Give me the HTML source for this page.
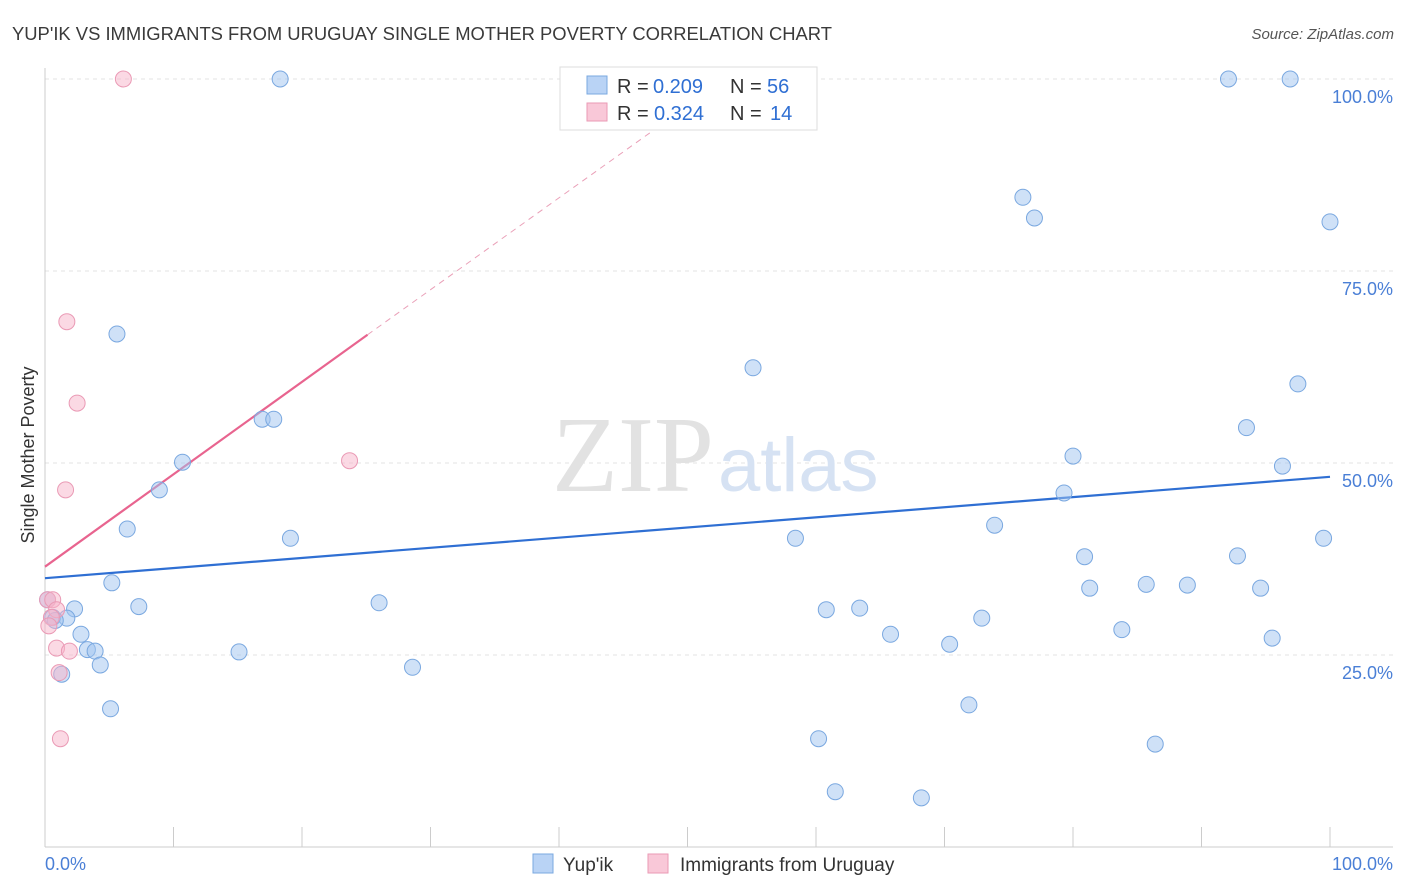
<!DOCTYPE html>
<html><head><meta charset="utf-8"><style>
body{margin:0;background:#fff;font-family:"Liberation Sans",sans-serif;}
svg{display:block}
</style></head><body>
<svg width="1406" height="892">
<text x="12" y="40" font-size="18.4" fill="#3a3a3a">YUP'IK VS IMMIGRANTS FROM URUGUAY SINGLE MOTHER POVERTY CORRELATION CHART</text>
<text x="1394" y="39" font-size="15" fill="#555" font-style="italic" text-anchor="end">Source: ZipAtlas.com</text>
<g id="grid"></g>
<text x="714" y="491" font-size="108" fill="#e2e2e2" font-family="Liberation Serif" text-anchor="end">ZIP</text>
<text x="718" y="491" font-size="76" fill="#d6e2f3">atlas</text>
<text x="34" y="455" font-size="18" fill="#333" transform="rotate(-90 34 455)" text-anchor="middle">Single Mother Poverty</text>
<g id="lines"></g>
<g id="pts"></g>
<rect x="560" y="67" width="257" height="63" fill="#fff" stroke="#ddd"/>
<rect x="587" y="76" width="20" height="18" fill="#b9d3f5" stroke="#7aa8e0"/>
<rect x="587" y="103" width="20" height="18" fill="#f9c8d8" stroke="#ea9ab5"/>
<g font-size="20" fill="#333">
<text x="617" y="93">R =</text>
<text x="653" y="93" fill="#2f6fd3">0.209</text>
<text x="730" y="93">N =</text>
<text x="767" y="93" fill="#2f6fd3">56</text>
<text x="617" y="120">R =</text>
<text x="654" y="120" fill="#2f6fd3">0.324</text>
<text x="730" y="120">N =</text>
<text x="770" y="120" fill="#2f6fd3">14</text>
</g>
<text x="45" y="870" font-size="18" fill="#4a7fd6">0.0%</text>
<text x="1393" y="870" font-size="18" fill="#4a7fd6" text-anchor="end">100.0%</text>
<rect x="533" y="854" width="20" height="19" fill="#b9d3f5" stroke="#7aa8e0"/>
<text x="563" y="871" font-size="19" fill="#333">Yup'ik</text>
<rect x="648" y="854" width="20" height="19" fill="#f9c8d8" stroke="#ea9ab5"/>
<text x="680" y="871" font-size="19" fill="#333">Immigrants from Uruguay</text>
</svg>
<script>
const yTicks=[25,50,75,100];
const yTickLabels=["25.0%","50.0%","75.0%","100.0%"];
const xTicks=[0,10,20,30,40,50,60,70,80,90,100];
const blueX=[18.3,92.1,96.9,76.1,77.0,100,5.6,55.1,97.5,16.9,17.8,93.5,10.7,80.0,96.3,8.9,79.3,6.4,73.9,19.1,58.4,99.5,80.9,92.8,5.2,81.3,85.7,88.9,94.6,0.2,2.3,7.3,26.0,60.8,63.4,0.6,1.7,72.9,2.8,65.8,83.8,95.5,3.3,3.9,15.1,70.4,4.3,28.6,1.3,5.1,71.9,60.2,86.4,61.5,68.2,0.8];
const blueY=[100,100,100,84.6,81.9,81.4,66.8,62.4,60.3,55.7,55.7,54.6,50.1,50.9,49.6,46.5,46.1,41.4,41.9,40.2,40.2,40.2,37.8,37.9,34.4,33.7,34.2,34.1,33.7,32.2,31.0,31.3,31.8,30.9,31.1,29.9,29.8,29.8,27.7,27.7,28.3,27.2,25.7,25.5,25.4,26.4,23.7,23.4,22.5,18.0,18.5,14.1,13.4,7.2,6.4,29.5];
const pinkX=[6.1,1.7,2.5,23.7,1.6,0.2,0.6,0.9,0.5,0.3,0.9,1.9,1.1,1.2];
const pinkY=[100,68.4,57.8,50.3,46.5,32.2,32.2,30.9,29.9,28.8,25.9,25.5,22.7,14.1];
const blueLine=[[0,35.0],[100,48.2]];
const pinkLine=[[0,36.5],[25.1,66.7]];
const pinkDash=[[25.1,66.7],[47.5,93.5]];
const X=v=>45+v*12.85, Y=v=>847-v*7.68;
const NS="http://www.w3.org/2000/svg";
function mk(tag,attrs,parent){const e=document.createElementNS(NS,tag);for(const k in attrs)e.setAttribute(k,attrs[k]);document.getElementById(parent).appendChild(e);return e;}
yTicks.forEach((t,i)=>{
 const l=mk('line',{x1:45,x2:1393,y1:Y(t),y2:Y(t),stroke:'#e3e3e3','stroke-dasharray':'4 4'},'grid');
 
 
 const tx=mk('text',{x:1393,y:Y(t)+24,'font-size':18,fill:'#4a7fd6','text-anchor':'end'},'grid');
 tx.textContent=yTickLabels[i];
 
 
});
const ax=mk('line',{x1:45,x2:1393,y1:847,y2:847,stroke:'#ccc'},'grid');


const ay=mk('line',{x1:45,x2:45,y1:68,y2:847,stroke:'#ccc'},'grid');


xTicks.forEach(t=>{
 const l=mk('line',{x1:X(t),x2:X(t),y1:827,y2:847,stroke:'#ccc'},'grid');
 
 
});
function seg(p,attrs,name){const l=mk('line',Object.assign({x1:X(p[0][0]),y1:Y(p[0][1]),x2:X(p[1][0]),y2:Y(p[1][1])},attrs),'lines');
 
 }
seg(blueLine,{stroke:'#2f6fd3','stroke-width':2.2},'yupik-trend-line');
seg(pinkLine,{stroke:'#e8648f','stroke-width':2.2},'uruguay-trend-line');
seg(pinkDash,{stroke:'#eaa0b8','stroke-width':1,'stroke-dasharray':'6 5'},'uruguay-trend-extension');
blueX.forEach((v,i)=>{const c=mk('circle',{cx:X(v),cy:Y(blueY[i]),r:8,fill:'rgba(160,196,240,0.5)',stroke:'#7aa8e0','stroke-width':1},'pts');
 
 });
pinkX.forEach((v,i)=>{const c=mk('circle',{cx:X(v),cy:Y(pinkY[i]),r:8,fill:'rgba(247,180,202,0.5)',stroke:'#ea9ab5','stroke-width':1},'pts');
 
 });
</script>
</body></html>
